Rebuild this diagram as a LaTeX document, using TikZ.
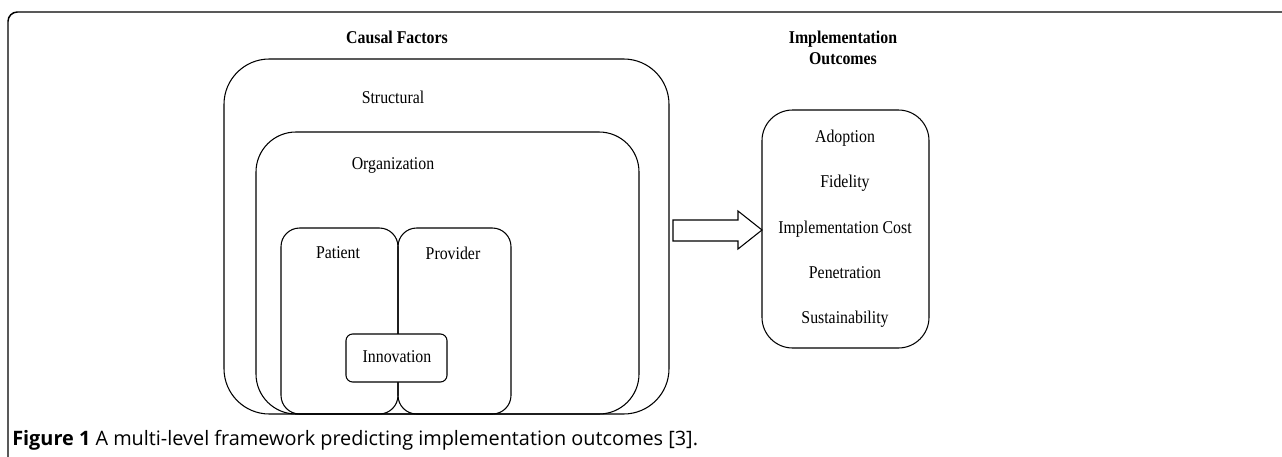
\documentclass[tikz,border=0pt]{standalone}
\usepackage{fontspec}
\setmainfont{Liberation Serif}[FakeStretch=0.88]
\newfontfamily\capfont{Open Sans}
\tikzset{
	box/.style={draw=black, line width=0.8pt},
	lbl/.style={font=\fontsize{13.5}{15}\selectfont, inner sep=0pt},
	head/.style={font=\fontsize{13.5}{15.5}\selectfont\bfseries, inner sep=0pt, align=center},
}
\begin{document}
\begin{tikzpicture}[x=0.75pt, y=-0.75pt]
		\useasboundingbox (0,0) rectangle (1282,457);
		% frame
		\draw[line width=1.1pt, rounded corners=7pt] (1282,12) -- (8,12) -- (8,457);
		
		% causal factors
		\node[head] (causal) at (397,37) {Causal Factors};
		\draw[box, rounded corners=34pt] (224,59) rectangle (669,414);
		\node[lbl] (structural) at (393,97) {Structural};
		\draw[box, rounded corners=30pt] (256,132) rectangle (639,414);
		\node[lbl] (organization) at (393,165) {Organization};
		\draw[box, rounded corners=14pt] (281,228) rectangle (398,414);
		\node[lbl] (patient) at (338,253) {Patient};
		\draw[box, rounded corners=14pt] (398,228) rectangle (511,414);
		\node[lbl] (provider) at (453,253) {Provider};
		\draw[box, fill=white, rounded corners=5pt] (346,334) rectangle (447,382);
		\node[lbl] (innovation) at (397,357) {Innovation};
		
		% block arrow
		\draw[box] (673,220) -- (738,220) -- (738,211) -- (762,230) -- (738,249) -- (738,241) -- (673,241) -- cycle;
		
		% implementation outcomes
		\node[head] (outcomes) at (843,48) {Implementation\\Outcomes};
		\draw[box, rounded corners=23pt] (762,110) rectangle (929,348);
		\node[lbl] (adoption) at (845,138) {Adoption};
		\node[lbl] (fidelity) at (845,183) {Fidelity};
		\node[lbl] (cost) at (845,229) {Implementation Cost};
		\node[lbl] (penetration) at (845,273) {Penetration};
		\node[lbl] (sustain) at (845,319) {Sustainability};
		
		% caption
		\node[anchor=west, inner sep=0pt, font=\capfont\fontsize{14.9}{17}\selectfont] (caption) at (12,440) {\textbf{Figure 1} A multi-level framework predicting implementation outcomes [3].};
		
	\end{tikzpicture}
\end{document}
